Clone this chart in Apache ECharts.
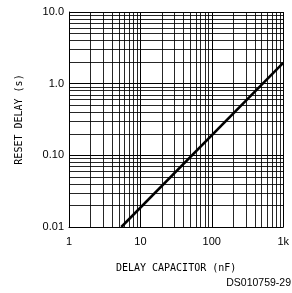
<!DOCTYPE html>
<html>
<head>
<meta charset="utf-8">
<script src="https://cdn.jsdelivr.net/npm/echarts@6/dist/echarts.min.js"></script>
<style>
  html, body { margin: 0; padding: 0; background: #fff; }
  #chart { width: 292px; height: 293px; }
</style>
</head>
<body>
<div id="chart"></div>
<script>
// delay capacitor (nF) vs reset delay (s)
var capNF = [5.4, 1000];
var delayS = [0.01, 1.95];

var xTickVals = [1, 10, 100, 1000];
var xTickText = ['1', '10', '100', '1k'];
var yTickVals = [0.01, 0.1, 1, 10];
var yTickText = ['0.01', '0.10', '1.0', '10.0'];

// 2..9 inside each decade
function minorLines(from, to) {
    var out = [];
    for (var d = from; d < to; d *= 10) {
        for (var k = 2; k <= 9; k++) out.push(Math.round(d * k * 1000) / 1000);
    }
    return out;
}
var xMinor = minorLines(1, 1000);
var yMinor = minorLines(0.01, 10);

var titleFont = '"DejaVu Sans Mono", monospace';
var tickFont = '"Liberation Sans", Arial, sans-serif';

var myChart = echarts.init(document.getElementById('chart'));
var markData = [];
xMinor.forEach(function (v) { markData.push({xAxis: v}); });
yMinor.forEach(function (v) { markData.push({yAxis: v}); });

var option = {
    animation: false,
    grid: {left: 69, right: 6, top: 12, bottom: 66},
    xAxis: {
        type: 'log',
        logBase: 10,
        min: 1,
        max: 1000,
        name: 'DELAY CAPACITOR (nF)',
        nameLocation: 'middle',
        nameGap: 36,
        nameTextStyle: {color: '#000', fontSize: 10, fontFamily: titleFont},
        axisLine: {show: true, lineStyle: {color: '#000', width: 1}},
        axisTick: {show: false},
        axisLabel: {
            color: '#000', fontSize: 11, fontFamily: tickFont, margin: 9,
            formatter: function (v) {
                var i = xTickVals.indexOf(Math.round(v));
                return i >= 0 ? xTickText[i] : '';
            }
        },
        splitLine: {show: true, lineStyle: {color: '#000', width: 1}},
        minorTick: {show: false},
        minorSplitLine: {show: false}
    },
    yAxis: {
        type: 'log',
        logBase: 10,
        min: 0.01,
        max: 10,
        name: 'RESET DELAY (s)',
        nameLocation: 'middle',
        nameGap: 45,
        nameTextStyle: {color: '#000', fontSize: 10, fontFamily: titleFont},
        axisLine: {show: true, lineStyle: {color: '#000', width: 1}},
        axisTick: {show: false},
        axisLabel: {
            color: '#000', fontSize: 11, fontFamily: tickFont, margin: 5,
            formatter: function (v) {
                for (var i = 0; i < yTickVals.length; i++) {
                    if (Math.abs(v - yTickVals[i]) < yTickVals[i] * 1e-6) return yTickText[i];
                }
                return '';
            }
        },
        splitLine: {show: true, lineStyle: {color: '#000', width: 1}},
        minorTick: {show: false},
        minorSplitLine: {show: false}
    },
    series: [
        {
            type: 'line',
            data: capNF.map(function (c, i) { return [c, delayS[i]]; }),
            symbol: 'none',
            lineStyle: {color: '#000', width: 2.5},
            z: 5,
            markLine: {
                silent: true,
                symbol: 'none',
                label: {show: false},
                lineStyle: {color: '#000', width: 1, type: 'solid', opacity: 0.85},
                data: markData
            }
        }
    ],
    graphic: [
        {
            type: 'text',
            right: 1,
            top: 278,
            style: {text: 'DS010759-29', fill: '#000', font: '10.5px "Liberation Sans", Arial, sans-serif'}
        }
    ]
};
option && myChart.setOption(option);
</script>
</body>
</html>
